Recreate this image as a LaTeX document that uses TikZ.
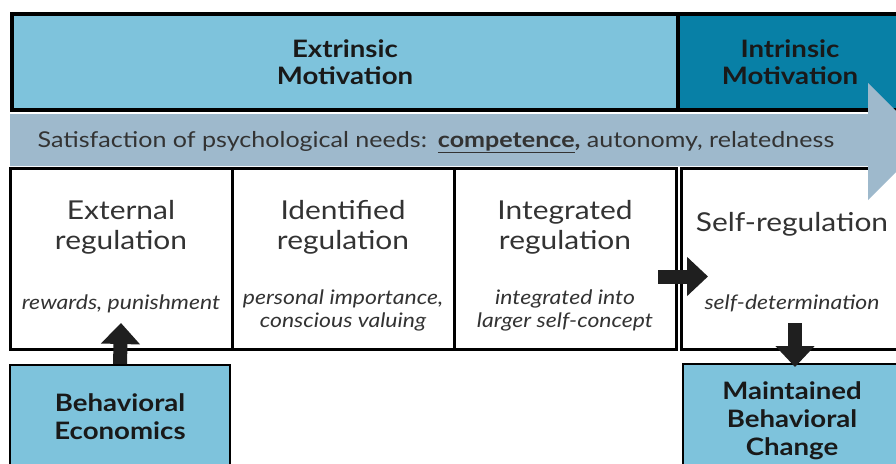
\documentclass[tikz,border=0pt]{standalone}
\usepackage{fontspec}
\setmainfont{Lato}[FakeStretch=1.15]
\usepackage{tikz}
\usetikzlibrary{arrows.meta,positioning}
\definecolor{lightsky}{HTML}{7EC3DC}
\definecolor{deepteal}{HTML}{0880A6}
\definecolor{bandgray}{HTML}{9EB9CC}
\definecolor{inkgray}{HTML}{333333}

\begin{document}
\begin{tikzpicture}[x=1pt,y=-1pt,
head/.style={draw,line width=3.5pt,outer sep=0pt,minimum width=666pt,minimum height=96pt,align=center,font=\fontsize{24}{27}\selectfont\bfseries,text=black!90},
reg/.style={draw,line width=3pt,outer sep=0pt,minimum width=222pt,minimum height=181pt,fill=white},
ttl/.style={align=center,font=\fontsize{26}{30}\selectfont,text=inkgray},
note/.style={anchor=north,align=center,font=\fontsize{20}{23}\selectfont\itshape,text=inkgray},
goal/.style={draw,line width=2pt,fill=lightsky,minimum width=220pt,minimum height=104pt,align=center,font=\fontsize{24}{28}\selectfont\bfseries,text=black!90},
arr/.style={-{Triangle[width=38pt,length=21pt]},line width=14pt,black!88}]
\useasboundingbox (0,0) rectangle (896,463);
\clip (0,0) rectangle (896,463);
\node[head,fill=lightsky] (extr) at (345,62) {Extrinsic\\Motivation};
\node[head,fill=deepteal,minimum width=224pt,right=0pt of extr] (intr) {Intrinsic\\Motivation};
\node[reg] (ext) at (121,258.5) {};
\node[reg,right=0pt of ext] (ident) {};
\node[reg,right=0pt of ident] (integ) {};
\node[reg,right=5pt of integ] (selfreg) {};
\node[ttl] (extT) at ([yshift=-59pt]ext.north) {External\\regulation};
\node[ttl] (identT) at ([yshift=-59pt]ident.north) {Identified\\regulation};
\node[ttl] (integT) at ([yshift=-59pt]integ.north) {Integrated\\regulation};
\node[ttl] (selfregT) at ([yshift=-56pt]selfreg.north) {Self-regulation};
\node[note] (extN) at ([yshift=-123pt]ext.north) {rewards, punishment};
\node[note] (identN) at ([yshift=-118pt]ident.north) {personal importance,\\conscious valuing};
\node[note] (integN) at ([yshift=-118pt]integ.north) {integrated into\\larger self-concept};
\node[note] (selfregN) at ([yshift=-123pt]selfreg.north) {self-determination};
\fill[bandgray] (10,114) -- (868,114) -- (868,83) -- (926.5,141.5) -- (868,200) -- (868,166) -- (10,166) -- cycle;
\node[font=\fontsize{21.8}{24}\selectfont,text=black!80] (needs) at (436,142) {Satisfaction of psychological needs:\hspace{0.5em}\underline{\textbf{competence}}\textbf{,} autonomy, relatedness};
\node[goal] (econ) at (120,417) {Behavioral\\Economics};
\node[goal,minimum width=218pt,minimum height=114pt] (maint) at (792,421) {Maintained\\Behavioral\\Change};
\draw[arr] (econ.north) -- ([yshift=26pt]ext.south);
\draw[arr] ([xshift=-18pt,yshift=-18pt]integ.east) -- ([xshift=27pt,yshift=-18pt]selfreg.west);
\draw[arr] ([xshift=3pt,yshift=26pt]selfreg.south) -- ([xshift=3pt,yshift=-4pt]maint.north);
\end{tikzpicture}
\end{document}
